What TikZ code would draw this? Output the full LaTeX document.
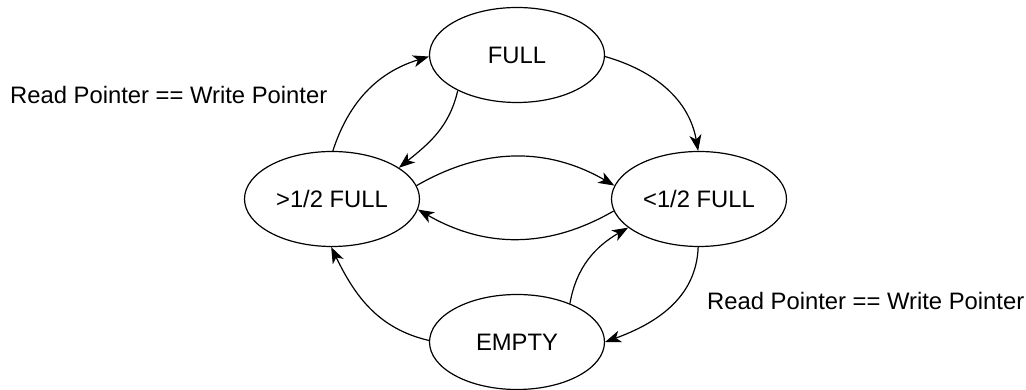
\documentclass[tikz,border=0pt]{standalone}
\usepackage{fontspec}
\setmainfont{Liberation Sans}
\usetikzlibrary{shapes.geometric,arrows.meta}
\begin{document}
\begin{tikzpicture}[x=1pt,y=1pt,
  state/.style={ellipse,draw,line width=1.2pt,minimum width=175pt,minimum height=95pt,inner sep=0pt,font=\fontsize{23.8}{28}\selectfont},
  lbl/.style={inner sep=0pt,anchor=base west,font=\fontsize{23.8}{28}\selectfont},
  conn/.style={line width=1.2pt,-{Stealth[length=16pt,width=12pt,inset=4.5pt]}}]
\useasboundingbox (0,0) rectangle (1026,390);
\node[state] (full) at (517,335) {FULL};
\node[state] (gt) at (332,191) {>1/2 FULL};
\node[state] (lt) at (699,191) {<1/2 FULL};
\node[state] (empty) at (517,48) {EMPTY};
\node[lbl] (l1) at (10,286) {Read Pointer == Write Pointer};
\node[lbl] (l2) at (707,80) {Read Pointer == Write Pointer};
\draw[conn] (gt.89) to[out=72,in=197] (full.181);
\draw[conn] (full.211) to[out=257,in=39] (gt.25);
\draw[conn] (full.-1) to[out=-16,in=100] (lt.91);
\draw[conn] (gt.9) to[out=30,in=150] (lt.171);
\draw[conn] (lt.188) to[out=210,in=-30] (gt.-7);
\draw[conn] (empty.179) to[out=167,in=-64] (gt.269);
\draw[conn] (empty.36) to[out=80,in=210] (lt.202);
\draw[conn] (lt.269) to[out=268,in=20] (empty.0);
\end{tikzpicture}
\end{document}
